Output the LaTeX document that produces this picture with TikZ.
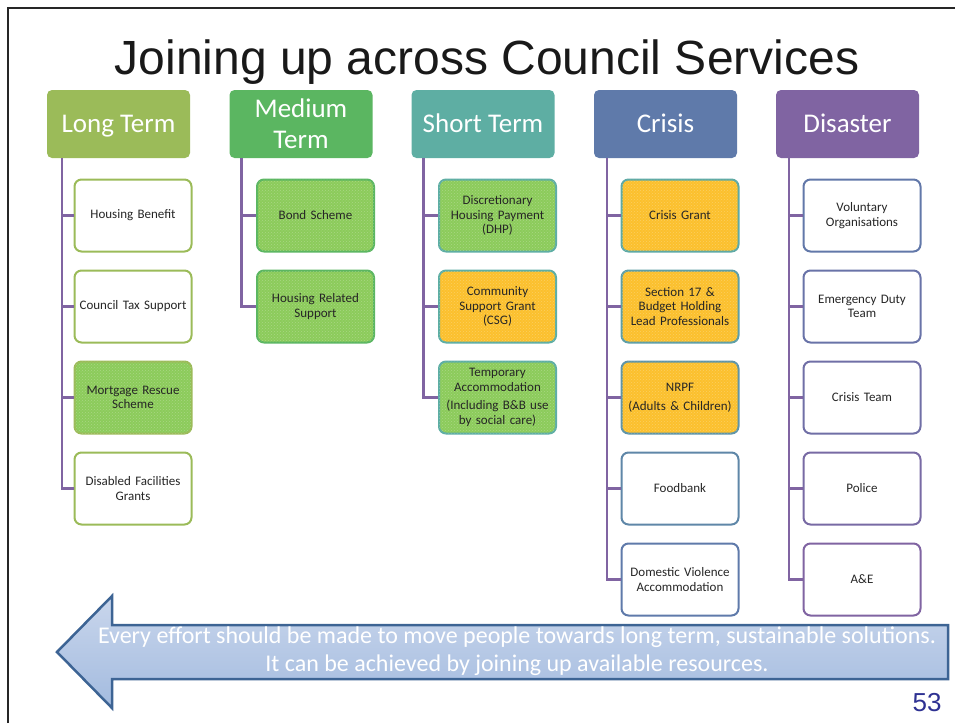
\documentclass[tikz,border=0pt]{standalone}
\usepackage{fontspec}
\setmainfont{Carlito}
\newfontfamily\arialfont{Liberation Sans}
\usetikzlibrary{patterns}

\definecolor{longgreen}{HTML}{9BBB59}
\definecolor{medgreen}{HTML}{5BB661}
\definecolor{shortteal}{HTML}{5EAEA3}
\definecolor{crisisblue}{HTML}{5F7AAA}
\definecolor{disasterpurple}{HTML}{8064A2}
\definecolor{fillgreen}{HTML}{8CCB5B}
\definecolor{fillyellow}{HTML}{FBC02D}
\definecolor{arrowedge}{HTML}{3D6494}
\definecolor{arrowtop}{HTML}{C9D6EC}
\definecolor{arrowbottom}{HTML}{A3BBDF}
\definecolor{pagenum}{HTML}{2E3192}

\begin{document}
\begin{tikzpicture}[x=1pt, y=-1pt,
    head/.style={rectangle, rounded corners=5pt, minimum width=143pt, minimum height=68pt,
        inner sep=0pt, text=white, align=center, font=\fontsize{27}{31}\selectfont},
    headline/.style={head, text height=21pt, text depth=4pt},
    item/.style={rectangle, rounded corners=7pt, draw, line width=2pt, fill=white,
        minimum width=117pt, minimum height=72pt, text width=112pt, inner sep=0pt,
        align=center, text=black!85, font=\fontsize{13}{14.5}\selectfont},
    greenitem/.style={item, fill=fillgreen,
        postaction={pattern=crosshatch dots, pattern color=white, fill opacity=0.25}},
    yellowitem/.style={item, fill=fillyellow,
        postaction={pattern=crosshatch dots, pattern color=white, fill opacity=0.25}},
    link/.style={disasterpurple, line width=2.5pt}]
    \useasboundingbox (0,0) rectangle (955,723);

    % slide frame
    \draw[black!85, line width=2pt] (8,723) -- (8,8) -- (955,8);

    \node[font=\arialfont\fontsize{48}{50}\selectfont, text=black!90, anchor=base] (title)
        at (487,74) {Joining up across Council Services};

    % Header boxes
    \node[headline, fill=longgreen] (lt) at (118.5,124) {Long Term};
    \node[head, fill=medgreen] (mt) at (301,124) {Medium\\Term};
    \node[headline, fill=shortteal] (st) at (483,124) {Short Term};
    \node[headline, fill=crisisblue] (cr) at (665.5,124) {Crisis};
    \node[headline, fill=disasterpurple] (di) at (847.5,124) {Disaster};

    % Long term
    \node[item, draw=longgreen] (lt1) at (133,215.5) {Housing Benefit};
    \node[item, draw=longgreen] (lt2) at (133,306.5) {Council Tax Support};
    \node[greenitem, draw=longgreen] (lt3) at (133,397.5) {Mortgage Rescue\\Scheme};
    \node[item, draw=longgreen] (lt4) at (133,488.5) {Disabled Facilities\\Grants};

    % Medium term
    \node[greenitem, draw=medgreen] (mt1) at (315.5,215.5) {Bond Scheme};
    \node[greenitem, draw=medgreen] (mt2) at (315.5,306.5) {Housing Related\\Support};

    % Short term
    \node[greenitem, draw=shortteal] (st1) at (497.5,215.5) {Discretionary\\Housing Payment\\(DHP)};
    \node[yellowitem, draw=shortteal] (st2) at (497.5,306.5) {Community\\Support Grant\\(CSG)};
    \node[greenitem, draw=shortteal] (st3) at (497.5,397.5) {Temporary\\Accommodation\\[4pt](Including B\&B use\\by social care)};

    % Crisis
    \node[yellowitem, draw=crisisblue!10!shortteal] (cr1) at (680,215.5) {Crisis Grant};
    \node[yellowitem, draw=crisisblue!30!shortteal] (cr2) at (680,306.5) {Section 17 \&\\Budget Holding\\Lead Professionals};
    \node[yellowitem, draw=crisisblue!50!shortteal] (cr3) at (680,397.5) {NRPF\\[5pt](Adults \& Children)};
    \node[item, draw=crisisblue!75!shortteal] (cr4) at (680,488.5) {Foodbank};
    \node[item, draw=crisisblue] (cr5) at (680,579.5) {Domestic Violence\\Accommodation};

    % Disaster
    \node[item, draw=disasterpurple!10!crisisblue] (di1) at (862,215.5) {Voluntary\\Organisations};
    \node[item, draw=disasterpurple!30!crisisblue] (di2) at (862,306.5) {Emergency Duty\\Team};
    \node[item, draw=disasterpurple!50!crisisblue] (di3) at (862,397.5) {Crisis Team};
    \node[item, draw=disasterpurple!75!crisisblue] (di4) at (862,488.5) {Police};
    \node[item, draw=disasterpurple] (di5) at (862,579.5) {A\&E};

    % Connectors
    \draw[link] ([xshift=15pt]lt.south west) |- (lt1.west);
    \draw[link] ([xshift=15pt]lt.south west) |- (lt2.west);
    \draw[link] ([xshift=15pt]lt.south west) |- (lt3.west);
    \draw[link] ([xshift=15pt]lt.south west) |- (lt4.west);
    \draw[link] ([xshift=12pt]mt.south west) |- (mt1.west);
    \draw[link] ([xshift=12pt]mt.south west) |- (mt2.west);
    \draw[link] ([xshift=12pt]st.south west) |- (st1.west);
    \draw[link] ([xshift=12pt]st.south west) |- (st2.west);
    \draw[link] ([xshift=12pt]st.south west) |- (st3.west);
    \draw[link] ([xshift=13pt]cr.south west) |- (cr1.west);
    \draw[link] ([xshift=13pt]cr.south west) |- (cr2.west);
    \draw[link] ([xshift=13pt]cr.south west) |- (cr3.west);
    \draw[link] ([xshift=13pt]cr.south west) |- (cr4.west);
    \draw[link] ([xshift=13pt]cr.south west) |- (cr5.west);
    \draw[link] ([xshift=13pt]di.south west) |- (di1.west);
    \draw[link] ([xshift=13pt]di.south west) |- (di2.west);
    \draw[link] ([xshift=13pt]di.south west) |- (di3.west);
    \draw[link] ([xshift=13pt]di.south west) |- (di4.west);
    \draw[link] ([xshift=13pt]di.south west) |- (di5.west);

    % Big arrow pointing back to long term
    \draw[arrowedge, line width=2.5pt, line join=miter, top color=arrowtop,
        bottom color=arrowbottom]
        (57,652) -- (112,596) -- (112,625) -- (948,625) -- (948,679)
        -- (112,679) -- (112,708) -- cycle;
    \node[text=white, align=center, font=\fontsize{24}{28}\selectfont] (msg) at (517,651)
        {Every effort should be made to move people towards long term, sustainable solutions.\\
         It can be achieved by joining up available resources.};

    \node[text=pagenum, font=\arialfont\fontsize{26}{28}\selectfont] (page) at (927,703) {53};
\end{tikzpicture}
\end{document}
